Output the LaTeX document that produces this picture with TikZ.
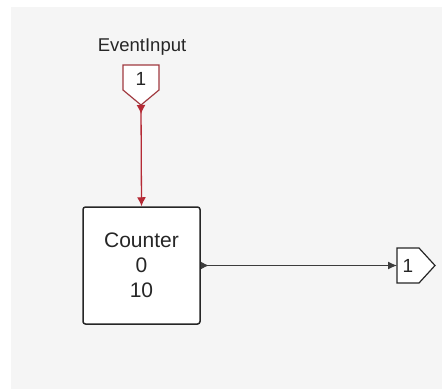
\documentclass[tikz,border=0pt]{standalone}
\usepackage{fontspec}
\setmainfont{Liberation Sans}
\usetikzlibrary{arrows.meta}
\definecolor{canvas}{HTML}{F5F5F5}
\definecolor{evred}{HTML}{B52A35}
\definecolor{portred}{HTML}{A0393F}
\definecolor{ink}{HTML}{262626}
\definecolor{wireink}{HTML}{3C3C3C}
\tikzset{
  portshape/.style={draw=#1, fill=white, line width=1.2pt, line join=miter},
  porttext/.style={font=\fontsize{19}{19}\selectfont, text=ink, inner sep=0pt},
  blockbox/.style={draw=ink, fill=white, line width=1.5pt, rounded corners=2.5pt,
    minimum width=117pt, minimum height=117pt, align=center,
    font=\fontsize{21}{25}\selectfont, text=ink},
  eventwire/.style={draw=evred, line width=1.3pt,
    {Latex[length=9pt,width=9pt,reversed]}-{Latex[length=9pt,width=9pt]}},
  datawire/.style={draw=wireink, line width=1.1pt,
    {Latex[length=8pt,width=8pt,reversed]}-{Latex[length=9pt,width=8pt]}},
}
\begin{document}
\begin{tikzpicture}[x=1pt,y=-1pt]
  \useasboundingbox (0,0) rectangle (442,389);
  \fill[canvas] (11,7) rectangle (442,389);

  % event inport, pointing down
  \draw[portshape=portred] (123,65) -- (159,65) -- (159,90) -- (141,105) -- (123,90) -- cycle;
  \node[porttext] (inport) at (141,78.5) {1};
  \node[font=\fontsize{18.5}{18.5}\selectfont, text=ink, inner sep=0pt] (inlabel) at (142,47) {EventInput};
  \coordinate (intip) at (141,105);

  % counter block
  \node[blockbox] (counter) at (141.5,265.5) {Counter\\0\\10};

  % outport, pointing right
  \draw[portshape=ink] (397,248) -- (419,248) -- (435,265.5) -- (419,283) -- (397,283) -- cycle;
  \node[porttext] (outport) at (408,265.5) {1};
  \coordinate (outleft) at (397,265.5);

  % wires
  \draw[eventwire] (intip) -- (counter.north);
  \draw[datawire] (counter.east) -- (outleft);
\end{tikzpicture}
\end{document}
